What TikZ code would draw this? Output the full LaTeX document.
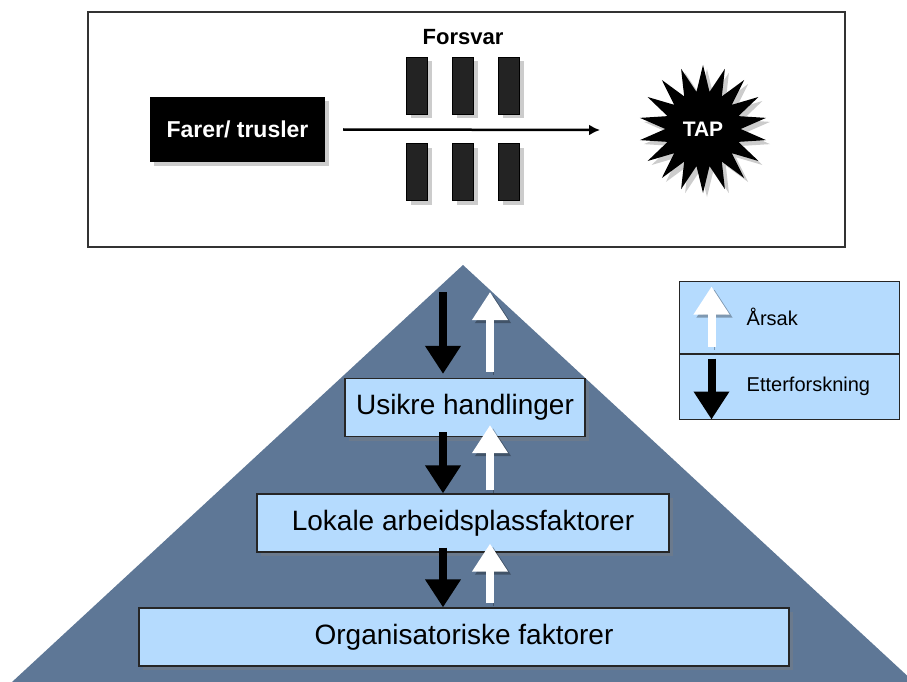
\documentclass[tikz,border=0pt]{standalone}
\usepackage{fontspec}
\setmainfont{Liberation Sans}
\usetikzlibrary{positioning,arrows.meta,shapes.geometric,shadows}
\definecolor{pyrblue}{HTML}{5E7796}
\definecolor{boxblue}{HTML}{B5DBFE}
\definecolor{bargray}{HTML}{232323}
\tikzset{
  shade3/.style={drop shadow={shadow xshift=4pt, shadow yshift=-4pt, opacity=.4}},
  levelbox/.style={draw=black!85, line width=1.2pt, fill=boxblue, shade3, inner sep=0pt, minimum height=58pt, font=\fontsize{28}{32}\selectfont},
  legbox/.style={draw=black!85, line width=1pt, fill=boxblue, inner sep=0pt, minimum width=220pt},
  legtext/.style={inner sep=0pt, font=\fontsize{20}{23}\selectfont},
  blackbox/.style={fill=black, text=white, shade3, font=\bfseries\fontsize{23}{26}\selectfont, minimum width=175pt, minimum height=65pt},
  barbox/.style={fill=bargray, draw=black, shade3, minimum width=21pt, minimum height=57pt, inner sep=0pt},
  arrowshade/.style={preaction={draw=black, draw opacity=.3, transform canvas={xshift=3pt, yshift=-3pt}}},
  downarrow/.style={line width=8pt, draw=black, -{Triangle[length=28pt, width=34pt]}},
  uparrow/.style={line width=8pt, draw=white, -{Triangle[length=28pt, width=34pt]}, arrowshade},
  thinarrow/.style={line width=2.5pt, -{Latex[length=11pt, width=11pt]}}
}
\begin{document}
\begin{tikzpicture}[x=1pt, y=-1pt]
  \useasboundingbox (0,0) rectangle (907,682);
  % top frame: hazards through barriers
  \node[draw=black!80, line width=1.2pt, fill=white, minimum width=757pt, minimum height=235pt] (frame) at (466.5,129.5) {};
  \node[blackbox] (farer) at (237.5,129.5) {Farer/ trusler};
  \node[font=\bfseries\fontsize{22}{24}\selectfont] (forsvar) at (463,37) {Forsvar};
  \foreach \i/\x in {1/417,2/463,3/509} {
    \node[barbox] (top\i) at (\x,86) {};
    \node[barbox] (bot\i) at (\x,172) {};
  }
  \node[star, star points=18, star point ratio=1.7, fill=black, text=white, minimum size=128pt, inner sep=0pt, shade3, font=\bfseries\fontsize{21}{24}\selectfont] (tap) at (703,129) {TAP};
  \coordinate (hit) at (600,130);
  \draw[thinarrow] ([xshift=18pt]farer.east) -- (hit);

  % pyramid
  \fill[pyrblue] (463,265) -- (914,682) -- (12,682) -- cycle;
  \node[levelbox, minimum width=240pt] (usikre) at (465,407.5) {Usikre handlinger};
  \node[levelbox, minimum width=412pt] (lokale) at (463,523) {Lokale arbeidsplassfaktorer};
  \node[levelbox, minimum width=650pt] (org) at (464,637) {Organisatoriske faktorer};

  \coordinate (apexL) at (443,292);
  \coordinate (apexR) at (490,292);
  \draw[downarrow] (apexL) -- ([yshift=4pt]apexL |- usikre.north);
  \draw[uparrow] ([yshift=6pt]apexR |- usikre.north) -- (apexR);
  \draw[downarrow] ([xshift=-22pt,yshift=5pt]usikre.south) -- ([xshift=-20pt]lokale.north);
  \draw[uparrow] ([xshift=27pt,yshift=3pt]lokale.north) -- ([xshift=25pt,yshift=12pt]usikre.south);
  \draw[downarrow] ([xshift=-20pt,yshift=5pt]lokale.south) -- ([xshift=-21pt]org.north);
  \draw[uparrow] ([xshift=26pt,yshift=4pt]org.north) -- ([xshift=27pt,yshift=9pt]lokale.south);

  % legend
  \node[legbox, minimum height=72pt] (legcause) at (789,317) {};
  \node[legbox, minimum height=65pt, below=0pt of legcause] (legtrace) {};
  \node[legtext, right=68pt of legcause.west, anchor=west] (cause) {Årsak};
  \node[legtext, right=68pt of legtrace.west, anchor=west] (trace) {Etterforskning};
  \draw[uparrow] ([xshift=33pt,yshift=7pt]legcause.south west) -- ([xshift=33pt,yshift=-6pt]legcause.north west);
  \draw[downarrow] ([xshift=33pt,yshift=-5pt]legtrace.north west) -- ([xshift=33pt]legtrace.south west);
\end{tikzpicture}
\end{document}
